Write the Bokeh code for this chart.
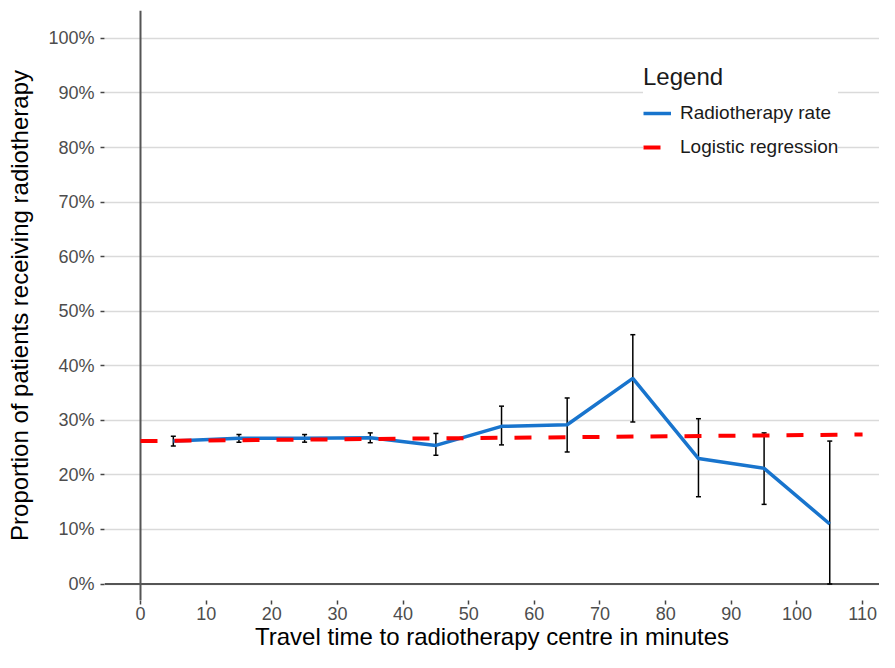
from bokeh.plotting import figure
from bokeh.models import (ColumnDataSource, Whisker, TeeHead, Span,
                          FixedTicker, NumeralTickFormatter, Range1d)
from bokeh.embed import file_html
from bokeh.resources import INLINE

# ---- data ----
travel_time = [5, 15, 25, 35, 45, 55, 65, 75, 85, 95, 105]
rate = [0.262, 0.267, 0.267, 0.268, 0.254, 0.289, 0.292, 0.377, 0.230, 0.212, 0.110]
rate_upper = [0.271, 0.274, 0.274, 0.277, 0.276, 0.326, 0.341, 0.457, 0.303, 0.277, 0.262]
rate_lower = [0.253, 0.260, 0.260, 0.259, 0.236, 0.255, 0.242, 0.297, 0.160, 0.146, 0.000]

logit_x = [0, 55, 110]
logit_y = [0.262, 0.268, 0.274]

x_ticks = [0, 10, 20, 30, 40, 50, 60, 70, 80, 90, 100, 110]
y_ticks = [0, 0.1, 0.2, 0.3, 0.4, 0.5, 0.6, 0.7, 0.8, 0.9, 1.0]

FONT = "Liberation Sans"

p = figure(width=879, height=652, output_backend="svg", toolbar_location=None,
           x_range=Range1d(-5.484, 112.58), y_range=Range1d(-0.0302, 1.0512),
           min_border_left=104, min_border_right=0, min_border_top=10,
           min_border_bottom=50)
p.background_fill_color = "white"
p.border_fill_color = "white"
p.outline_line_color = None

# grid
p.xgrid.visible = False
p.ygrid.ticker = FixedTicker(ticks=y_ticks)
p.ygrid.grid_line_color = "#dadada"
p.ygrid.grid_line_width = 1.5

# axes
p.xaxis.ticker = FixedTicker(ticks=x_ticks)
p.yaxis.ticker = FixedTicker(ticks=y_ticks)
p.yaxis.formatter = NumeralTickFormatter(format="0%")
for ax in (p.xaxis[0], p.yaxis[0]):
    ax.axis_line_color = None
    ax.minor_tick_line_color = None
    ax.major_tick_in = 0
    ax.major_tick_line_color = "#444444"
    ax.major_tick_line_width = 1.5
    ax.major_label_text_font = FONT
    ax.major_label_text_font_size = "18px"
    ax.major_label_text_color = "#4d4d4d"
    ax.major_label_text_line_height = 1.0
    ax.axis_label_text_font = FONT
    ax.axis_label_text_font_size = "24px"
    ax.axis_label_text_font_style = "normal"
    ax.axis_label_text_color = "#000000"
    ax.axis_label_text_line_height = 1.0
p.xaxis.major_tick_out = 4
p.xaxis.major_label_standoff = 2
p.yaxis.major_tick_out = 4
p.yaxis.major_label_standoff = 6

p.yaxis.axis_label = "Proportion of patients receiving radiotherapy"
p.yaxis.axis_label_standoff = 12
p.xaxis.axis_label = "Travel time to radiotherapy centre in minutes"
p.xaxis.axis_label_standoff = 0

# reference lines at x=0 and y=0
p.add_layout(Span(location=0, dimension="height", line_color="#555555",
                  line_width=2, level="underlay"))
p.add_layout(Span(location=0, dimension="width", line_color="#555555",
                  line_width=2, level="underlay"))

src = ColumnDataSource(dict(x=travel_time, y=rate, upper=rate_upper, lower=rate_lower))

p.line("x", "y", source=src, line_color="#1874CD", line_width=3.5,
       legend_label="Radiotherapy rate")

p.add_layout(Whisker(source=src, base="x", upper="upper", lower="lower",
                     line_color="black", line_width=1.5,
                     upper_head=TeeHead(size=5, line_color="black", line_width=1.5),
                     lower_head=TeeHead(size=5, line_color="black", line_width=1.5)))

p.line(logit_x, logit_y, line_color="#ff0000", line_width=4, line_dash="17 17",
       legend_label="Logistic regression")

# legend
lg = p.legend[0]
lg.title = "Legend"
lg.title_text_font = FONT
lg.title_text_font_size = "24px"
lg.title_text_font_style = "normal"
lg.title_text_color = "#1a1a1a"
lg.title_standoff = 7
lg.label_text_font = FONT
lg.label_text_font_size = "19px"
lg.label_text_color = "#1a1a1a"
lg.label_standoff = 9
lg.glyph_width = 28
lg.glyph_height = 30
lg.label_height = 30
lg.spacing = 4
lg.padding = 14
lg.margin = 0
lg.border_line_color = None
lg.background_fill_color = "white"
lg.background_fill_alpha = 1.0
lg.location = (539, 438)

open("out.html", "w").write(file_html(p, INLINE))
